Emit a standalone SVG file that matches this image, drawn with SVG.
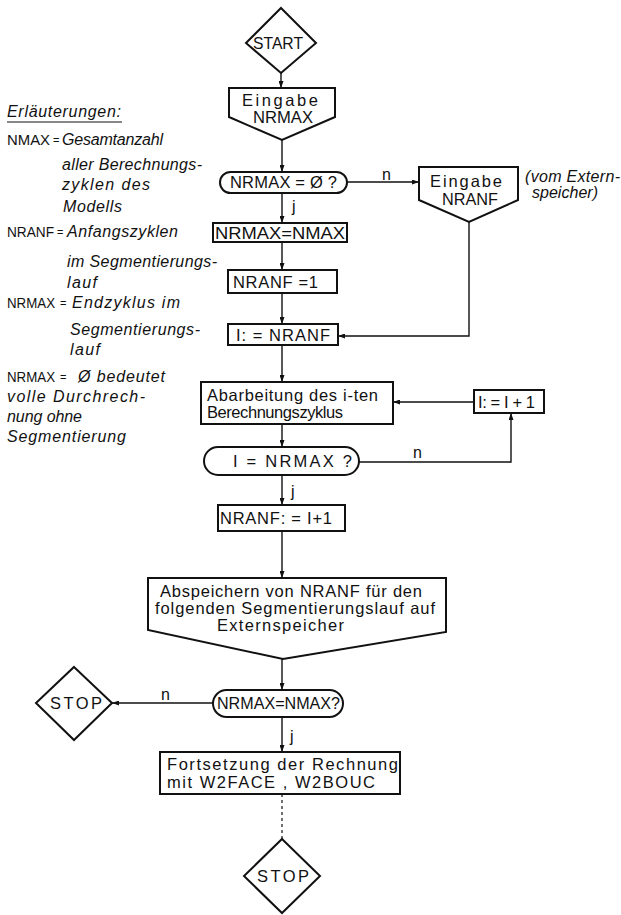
<svg xmlns="http://www.w3.org/2000/svg" width="621" height="915" viewBox="0 0 621 915">
  <style>
    .shape { fill: #fff; stroke: #111; stroke-width: 2; stroke-linejoin: miter; }
    .conn { fill: none; stroke: #111; stroke-width: 1.4; }
    .dash { fill: none; stroke: #111; stroke-width: 1.2; stroke-dasharray: 3 3; }
    .t { font-family: "Liberation Sans", "DejaVu Sans", sans-serif; font-size: 16.5px; fill: #111; }
    .lbl { font-family: "Liberation Sans", "DejaVu Sans", sans-serif; font-size: 16px; fill: #111; }
    .note { font-family: "Liberation Sans", "DejaVu Sans", sans-serif; font-style: italic; font-size: 16px; fill: #111; }
    .key { font-family: "Liberation Sans", "DejaVu Sans", sans-serif; font-size: 14px; fill: #111; }
    .eq { font-family: "Liberation Sans", "DejaVu Sans", sans-serif; font-size: 11px; fill: #111; }
  </style>
  <defs>
    <marker id="ah" viewBox="0 0 7 5" refX="7" refY="2.5" markerWidth="7" markerHeight="5" orient="auto" markerUnits="userSpaceOnUse">
      <path d="M0,0 L7,2.5 L0,5 z" fill="#111"/>
    </marker>
  </defs>
  <rect width="621" height="915" fill="#fff"/>

  <!-- explanation block -->
  <g id="legend">
    <text class="note" x="7" y="117" textLength="114" lengthAdjust="spacing">Erläuterungen:</text>
    <line x1="7" y1="122" x2="122" y2="122" stroke="#111" stroke-width="1"/>
    <text class="key" x="7" y="145" textLength="43" lengthAdjust="spacingAndGlyphs">NMAX</text>
    <text class="eq" x="53" y="144">=</text>
    <text class="note" x="62" y="145" textLength="101" lengthAdjust="spacing">Gesamtanzahl</text>
    <text class="note" x="62" y="170" textLength="140" lengthAdjust="spacing">aller Berechnungs-</text>
    <text class="note" x="62" y="190" textLength="88" lengthAdjust="spacing">zyklen  des</text>
    <text class="note" x="63" y="212" textLength="59" lengthAdjust="spacing">Modells</text>
    <text class="key" x="7" y="237" textLength="47" lengthAdjust="spacingAndGlyphs">NRANF</text>
    <text class="eq" x="57" y="236">=</text>
    <text class="note" x="67" y="237" textLength="111" lengthAdjust="spacing">Anfangszyklen</text>
    <text class="note" x="67" y="267" textLength="150" lengthAdjust="spacing">im Segmentierungs-</text>
    <text class="note" x="67" y="288" textLength="30" lengthAdjust="spacing">lauf</text>
    <text class="key" x="7" y="308" textLength="48" lengthAdjust="spacingAndGlyphs">NRMAX</text>
    <text class="eq" x="60" y="307">=</text>
    <text class="note" x="72" y="308" textLength="108" lengthAdjust="spacing">Endzyklus  im</text>
    <text class="note" x="70" y="335" textLength="130" lengthAdjust="spacing">Segmentierungs-</text>
    <text class="note" x="70" y="355" textLength="30" lengthAdjust="spacing">lauf</text>
    <text class="key" x="7" y="382" textLength="48" lengthAdjust="spacingAndGlyphs">NRMAX</text>
    <text class="eq" x="60" y="381">=</text>
    <text class="note" x="78" y="382" textLength="87" lengthAdjust="spacing">Ø  bedeutet</text>
    <text class="note" x="7" y="402" textLength="138" lengthAdjust="spacing">volle Durchrech-</text>
    <text class="note" x="7" y="422" textLength="75" lengthAdjust="spacing">nung ohne</text>
    <text class="note" x="7" y="442" textLength="119" lengthAdjust="spacing">Segmentierung</text>
  </g>

  <!-- connectors -->
  <g id="connectors">
    <path class="conn" d="M281,73 V88" marker-end="url(#ah)"/>
    <path class="conn" d="M282,140 V172" marker-end="url(#ah)"/>
    <path class="conn" d="M282,193 V223" marker-end="url(#ah)"/>
    <path class="conn" d="M347,182 H419" marker-end="url(#ah)"/>
    <path class="conn" d="M282,242 V270" marker-end="url(#ah)"/>
    <path class="conn" d="M282,293 V324" marker-end="url(#ah)"/>
    <path class="conn" d="M469,222 V336 H338" marker-end="url(#ah)"/>
    <path class="conn" d="M282,345 V382" marker-end="url(#ah)"/>
    <path class="conn" d="M282,424 V447" marker-end="url(#ah)"/>
    <path class="conn" d="M359,462 H511 V413" marker-end="url(#ah)"/>
    <path class="conn" d="M474,402 H393" marker-end="url(#ah)"/>
    <path class="conn" d="M282,475 V505" marker-end="url(#ah)"/>
    <path class="conn" d="M282,531 V578" marker-end="url(#ah)"/>
    <path class="conn" d="M282,659 V690" marker-end="url(#ah)"/>
    <path class="conn" d="M213,703 H112" marker-end="url(#ah)"/>
    <path class="conn" d="M282,717 V752" marker-end="url(#ah)"/>
    <path class="dash" d="M282,794 V839"/>
    <text class="lbl" x="382" y="180">n</text>
    <text class="lbl" x="292" y="212">j</text>
    <text class="lbl" x="413" y="458">n</text>
    <text class="lbl" x="291" y="497">j</text>
    <text class="lbl" x="161" y="700">n</text>
    <text class="lbl" x="290" y="742">j</text>
    <text class="note" x="525" y="182" textLength="95" lengthAdjust="spacing">(vom  Extern-</text>
    <text class="note" x="532" y="198" textLength="66" lengthAdjust="spacing">speicher)</text>
  </g>

  <g id="start">
    <polygon class="shape" points="281,8 316,43 281,73 246,43"/>
    <text class="t" x="253" y="49" textLength="50" lengthAdjust="spacingAndGlyphs">START</text>
  </g>

  <g id="input-nrmax">
    <path class="shape" d="M229,88 H335 V117 L282,140 L229,117 Z"/>
    <text class="t" x="242" y="106" textLength="76" lengthAdjust="spacing">Eingabe</text>
    <text class="t" x="253" y="123" textLength="60" lengthAdjust="spacingAndGlyphs">NRMAX</text>
  </g>

  <g id="test-nrmax-zero">
    <rect class="shape" x="220" y="172" width="127" height="21" rx="10.5"/>
    <text class="t" x="230" y="188" textLength="107" lengthAdjust="spacing">NRMAX = Ø ?</text>
  </g>

  <g id="input-nranf">
    <path class="shape" d="M419,167 H518 V200 L469,222 L419,200 Z"/>
    <text class="t" x="430" y="187" textLength="72" lengthAdjust="spacing">Eingabe</text>
    <text class="t" x="442" y="205" textLength="56" lengthAdjust="spacingAndGlyphs">NRANF</text>
  </g>

  <g id="set-nrmax">
    <rect class="shape" x="213" y="223" width="134" height="19"/>
    <text class="t" x="215" y="239" textLength="130" lengthAdjust="spacingAndGlyphs">NRMAX=NMAX</text>
  </g>

  <g id="set-nranf">
    <rect class="shape" x="228" y="270" width="109" height="23"/>
    <text class="t" x="233" y="288" textLength="85" lengthAdjust="spacing">NRANF =1</text>
  </g>

  <g id="set-i">
    <rect class="shape" x="228" y="324" width="110" height="21"/>
    <text class="t" x="236" y="341" textLength="94" lengthAdjust="spacing">I: = NRANF</text>
  </g>

  <g id="process-cycle">
    <rect class="shape" x="201" y="382" width="192" height="42"/>
    <text class="t" x="207" y="401" textLength="171" lengthAdjust="spacing">Abarbeitung  des  i-ten</text>
    <text class="t" x="207" y="418" textLength="136" lengthAdjust="spacing">Berechnungszyklus</text>
  </g>

  <g id="increment-i">
    <rect class="shape" x="474" y="390" width="70" height="23"/>
    <text class="t" x="478" y="408" textLength="57" lengthAdjust="spacing">I: = I + 1</text>
  </g>

  <g id="test-i">
    <rect class="shape" x="204" y="447" width="155" height="28" rx="14"/>
    <text class="t" x="233" y="467" textLength="119" lengthAdjust="spacing">I = NRMAX ?</text>
  </g>

  <g id="next-nranf">
    <rect class="shape" x="218" y="505" width="127" height="26"/>
    <text class="t" x="220" y="524" textLength="112" lengthAdjust="spacing">NRANF: = I+1</text>
  </g>

  <g id="store-nranf">
    <path class="shape" d="M148,578 H446 V632 L283,659 L148,630 Z"/>
    <text class="t" x="160" y="597" textLength="262" lengthAdjust="spacing">Abspeichern  von NRANF  für  den</text>
    <text class="t" x="155" y="614" textLength="280" lengthAdjust="spacing">folgenden  Segmentierungslauf  auf</text>
    <text class="t" x="217" y="631" textLength="127" lengthAdjust="spacing">Externspeicher</text>
  </g>

  <g id="test-nrmax-nmax">
    <rect class="shape" x="213" y="690" width="130" height="27" rx="13.5"/>
    <text class="t" x="217" y="709" textLength="123" lengthAdjust="spacingAndGlyphs">NRMAX=NMAX?</text>
  </g>

  <g id="stop-early">
    <polygon class="shape" points="74,667 112,703 74,740 36,703"/>
    <text class="t" x="50" y="709" textLength="52" lengthAdjust="spacing">STOP</text>
  </g>

  <g id="continue">
    <rect class="shape" x="160" y="752" width="240" height="42"/>
    <text class="t" x="167" y="770" textLength="231" lengthAdjust="spacing">Fortsetzung  der  Rechnung</text>
    <text class="t" x="167" y="788" textLength="208" lengthAdjust="spacing">mit  W2FACE , W2BOUC</text>
  </g>

  <g id="stop-end">
    <polygon class="shape" points="282,839 320,876 282,913 244,876"/>
    <text class="t" x="257" y="882" textLength="52" lengthAdjust="spacing">STOP</text>
  </g>
</svg>
